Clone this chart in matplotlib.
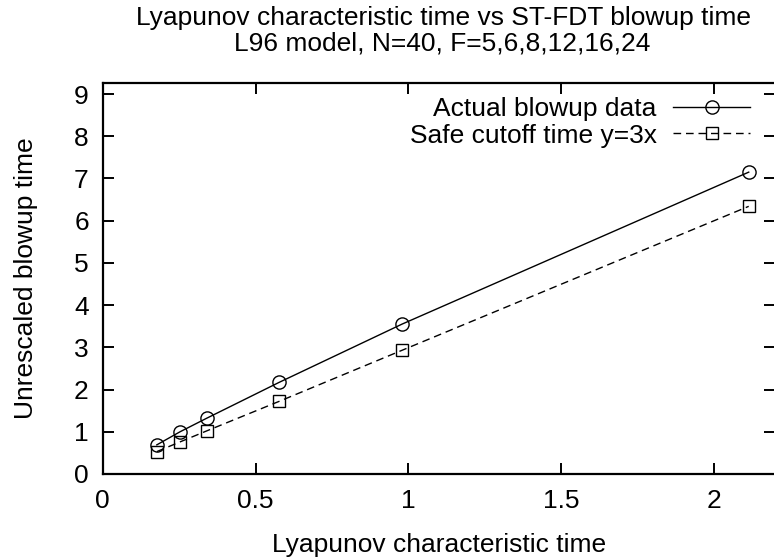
import matplotlib
matplotlib.use("Agg")
from matplotlib import pyplot as plt
from matplotlib.ticker import FuncFormatter

# values
lyap_time = [0.177, 0.253, 0.340, 0.577, 0.979, 2.113]
blowup_time = [0.69, 1.00, 1.32, 2.17, 3.55, 7.15]
cutoff_time = [0.53, 0.76, 1.02, 1.72, 2.93, 6.34]
x_ticks = [0, 0.5, 1, 1.5, 2]
y_ticks = list(range(10))

plt.rcParams['font.family'] = ['Liberation Sans', 'DejaVu Sans']
plt.rcParams['font.size'] = 19

fig = plt.figure(figsize=(7.74, 5.6), dpi=100)
ax = fig.add_axes([0.1327, 0.1536, 0.869, 0.6988])

ax.plot(lyap_time, blowup_time, color='black', lw=1.0, marker='o', markersize=9.5,
        fillstyle='none', markeredgewidth=1.0, label='Actual blowup data')
ax.plot(lyap_time, cutoff_time, color='black', lw=1.0, marker='s', markersize=9,
        fillstyle='none', markeredgewidth=1.0, dashes=(5.5, 3.5), label='Safe cutoff time y=3x')

ax.set_xlim(0, 2.2)
ax.set_ylim(0, 9.27)
ax.set_xticks(x_ticks)
ax.set_yticks(y_ticks)
ax.xaxis.set_major_formatter(FuncFormatter(lambda v, p: f"{v:g}"))
ax.tick_params(direction='in', length=8, width=1.4, top=True, right=True)
ax.tick_params(axis='x', pad=11)
ax.tick_params(axis='y', pad=10)
for s in ax.spines.values():
    s.set_linewidth(1.6)

ax.set_xlabel('Lyapunov characteristic time', labelpad=14)
ax.set_ylabel('Unrescaled blowup time', labelpad=26)

fig.text(0.573, 1 - 25 / 560, 'Lyapunov characteristic time vs ST-FDT blowup time',
         ha='center', va='baseline')
fig.text(0.571, 1 - 50 / 560, 'L96 model, N=40, F=5,6,8,12,16,24',
         ha='center', va='baseline')

ax.legend(loc='upper right', bbox_to_anchor=(750 / 774, 1 - 97 / 560),
          bbox_transform=fig.transFigure, frameon=False, markerfirst=False,
          handlelength=2.9, handletextpad=0.64, labelspacing=0.1, borderpad=0,
          borderaxespad=0)

fig.savefig('out.png', dpi=100)
